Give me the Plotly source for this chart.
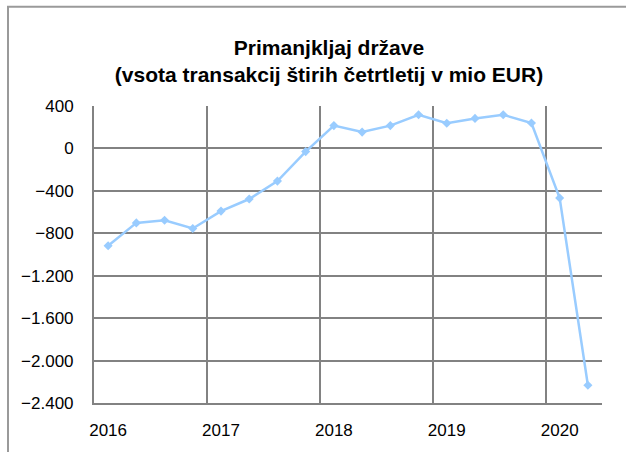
import plotly.graph_objects as go

# Data: four-quarter rolling sum of general government deficit (mio EUR)
quarters = [
    "2016Q1", "2016Q2", "2016Q3", "2016Q4",
    "2017Q1", "2017Q2", "2017Q3", "2017Q4",
    "2018Q1", "2018Q2", "2018Q3", "2018Q4",
    "2019Q1", "2019Q2", "2019Q3", "2019Q4",
    "2020Q1", "2020Q2",
]
values = [
    -917, -702, -677, -755,
    -591, -477, -308, -30,
    215, 154, 215, 317,
    237, 283, 317, 240,
    -468, -2233,
]
year_labels = ["2016", "2017", "2018", "2019", "2020"]
y_ticks = [400, 0, -400, -800, -1200, -1600, -2000, -2400]

x_idx = list(range(len(quarters)))
label_pos = [i for i, q in enumerate(quarters) if q.endswith("Q1")]

grid_col = "#828282"
font_family = "Liberation Sans, Arial, sans-serif"

fig = go.Figure()
fig.add_trace(go.Scatter(
    x=x_idx, y=values,
    mode="lines+markers",
    line=dict(color="#99CCFF", width=2.5),
    marker=dict(symbol="diamond", size=7, color="#99CCFF"),
    hovertext=quarters,
    showlegend=False,
))

L, R, T, B = 94, 24, 106, 44
W, H = 626, 452
pw, ph = W - L - R, H - T - B

fig.update_layout(
    width=W, height=H,
    margin=dict(l=L, r=R, t=T, b=B),
    paper_bgcolor="white", plot_bgcolor="white",
    separators=",.",
    font=dict(family=font_family, color="black", size=17),
    title=dict(
        text="<b>Primanjkljaj države<br>(vsota transakcij štirih četrtletij v mio EUR)</b>",
        x=329 / W, xanchor="center", xref="container",
        y=1 - 55 / H, yanchor="middle", yref="container",
        font=dict(size=21, family=font_family, color="black"),
    ),
    xaxis=dict(
        range=[-0.5, len(quarters) - 0.5],
        tickmode="array", tickvals=label_pos, ticktext=year_labels,
        showgrid=False, zeroline=False,
        showline=True, linecolor=grid_col, linewidth=2,
        ticks="", ticklabelstandoff=11,
        tickfont=dict(size=17),
        minor=dict(tickmode="array",
                   tickvals=[p - 0.5 for p in label_pos[1:]],
                   showgrid=True, gridcolor=grid_col, gridwidth=2, ticks=""),
        fixedrange=True,
    ),
    yaxis=dict(
        range=[-2400, 400],
        tickmode="array", tickvals=y_ticks,
        tickformat=",d",
        showgrid=True, gridcolor=grid_col, gridwidth=2,
        zeroline=True, zerolinecolor=grid_col, zerolinewidth=2,
        showline=True, linecolor=grid_col, linewidth=2,
        ticks="", ticklabelstandoff=15,
        tickfont=dict(size=17),
        fixedrange=True,
    ),
)

# chart-area frame (top and left edges visible, rest cropped as in reference)
fig.add_shape(
    type="rect", xref="paper", yref="paper",
    x0=(8 - L) / pw, x1=(W + 10 - L) / pw,
    y0=(H - B - (H + 10)) / ph, y1=(H - B - 5) / ph,
    line=dict(color="#9a9a9a", width=2), fillcolor="rgba(0,0,0,0)",
    layer="below",
)

fig.write_html("out.html")
